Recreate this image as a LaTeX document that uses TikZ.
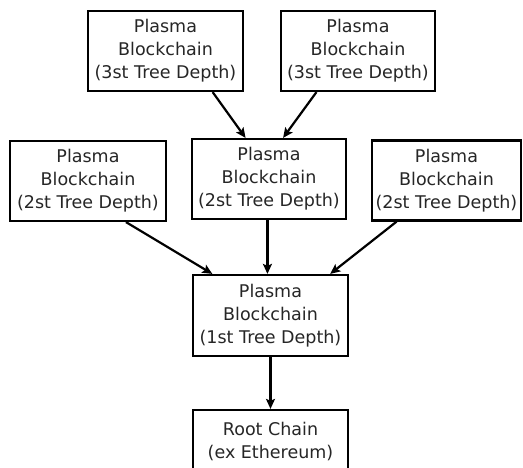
\documentclass[tikz,border=0pt]{standalone}
\usepackage{fontspec}
\setmainfont{DejaVu Sans}
\usetikzlibrary{arrows.meta,calc}

\tikzset{
  chainbox/.style={draw=black, line width=2.2pt, fill=white, align=center,
    inner sep=0pt, font=\fontsize{17.5}{23}\selectfont, text=black!85},
  link/.style={line width=2.2pt, -{Stealth[length=10pt,width=9pt,inset=2pt]}},
}

\begin{document}
\begin{tikzpicture}[x=1pt, y=-1pt]
  \useasboundingbox (0,0) rectangle (523,468);
  \clip (0,0) rectangle (523,468);

  % third level
  \node[chainbox, minimum width=155pt, minimum height=80pt] (tl) at (165.5,51)
    {Plasma\\Blockchain\\(3st Tree Depth)};
  \node[chainbox, minimum width=154pt, minimum height=80pt] (tr) at (358,51)
    {Plasma\\Blockchain\\(3st Tree Depth)};

  % second level
  \node[chainbox, minimum width=156pt, minimum height=80pt] (ml) at (88,181)
    {Plasma\\Blockchain\\(2st Tree Depth)};
  \node[chainbox, minimum width=154pt, minimum height=80pt] (mc) at (269,179)
    {Plasma\\Blockchain\\(2st Tree Depth)};
  \node[chainbox, minimum width=149pt, minimum height=80pt] (mr) at (446.5,180.5)
    {Plasma\\Blockchain\\(2st Tree Depth)};

  % first level
  \node[chainbox, minimum width=155pt, minimum height=81pt] (first) at (270.5,315.5)
    {Plasma\\Blockchain\\(1st Tree Depth)};

  % root chain
  \node[chainbox, minimum width=155pt, minimum height=64pt] (root) at (270.5,442)
    {Root Chain\\(ex Ethereum)};

  % connectors
  \coordinate (mcout) at ($(mc.south west)!0.49!(mc.south east)$);
  \draw[link] ($(tl.south west)!0.8!(tl.south east)$) -- ($(mc.north west)!0.35!(mc.north east)$);
  \draw[link] ($(tr.south west)!0.234!(tr.south east)$) -- ($(mc.north west)!0.59!(mc.north east)$);
  \draw[link] ($(ml.south west)!0.74!(ml.south east)$) -- ($(first.north west)!0.13!(first.north east)$);
  \draw[link] (mcout) -- (mcout |- first.north);
  \draw[link] ($(mr.south west)!0.17!(mr.south east)$) -- ($(first.north west)!0.88!(first.north east)$);
  \draw[link] (first.south) -- (root.north);
\end{tikzpicture}
\end{document}
